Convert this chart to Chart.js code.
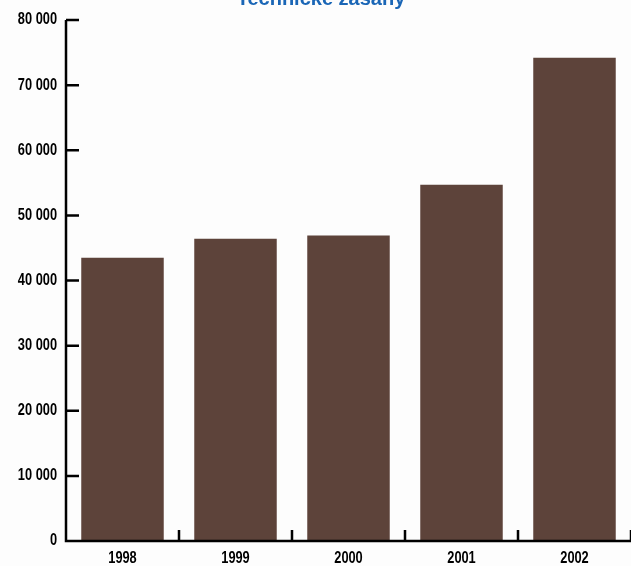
<!DOCTYPE html>
<html lang="cs">
<head>
    <meta charset="UTF-8" />
    <title>Technické zásahy</title>
    <script src="https://cdn.jsdelivr.net/npm/chart.js"></script>
    <style>
        html, body { margin: 0; padding: 0; background: #fdfdfd; }
        #wrap { width: 631px; height: 566px; position: relative; }
    </style>
</head>
<body>
<div id="wrap"><canvas id="c" width="631" height="566"></canvas></div>
<script>
// data
const years = ['1998', '1999', '2000', '2001', '2002'];
const interventions = [43500, 46400, 46900, 54700, 74200];
const yTicks = [0, 10000, 20000, 30000, 40000, 50000, 60000, 70000, 80000];

const titleText = 'Technické zásahy';
const fmt = v => v === 0 ? '0' : (v / 1000) + ' 000';

// draw condensed text (the original uses a narrow bold face)
function narrowText(ctx, text, x, y, align) {
    const sx = 0.8;
    ctx.save();
    ctx.translate(x, y);
    ctx.scale(sx, 1);
    ctx.textAlign = align;
    ctx.fillText(text, 0, 0);
    ctx.restore();
}

// axes with inward ticks and labels, positioned from the chart's own scales
const axesPlugin = {
    id: 'axes',
    afterDraw(chart) {
        const ctx = chart.ctx;
        const a = chart.chartArea;
        const x = chart.scales.x, y = chart.scales.y;
        ctx.save();
        ctx.strokeStyle = '#000';
        ctx.lineWidth = 2.5;
        ctx.beginPath();
        ctx.moveTo(a.left, a.top);
        ctx.lineTo(a.left, a.bottom);
        ctx.lineTo(a.right, a.bottom);
        yTicks.forEach(v => {
            const py = y.getPixelForValue(v);
            ctx.moveTo(a.left, py);
            ctx.lineTo(a.left + 13, py);
        });
        const half = (x.getPixelForValue(1) - x.getPixelForValue(0)) / 2;
        years.forEach((_, i) => {
            const px = x.getPixelForValue(i) + half;
            ctx.moveTo(px, a.bottom);
            ctx.lineTo(px, a.bottom - 11);
        });
        ctx.stroke();

        ctx.fillStyle = '#000';
        ctx.font = 'bold 16px "Liberation Sans", Arial, sans-serif';
        ctx.textBaseline = 'middle';
        yTicks.forEach(v => {
            narrowText(ctx, fmt(v), a.left - 9, y.getPixelForValue(v), 'right');
        });
        years.forEach((lab, i) => {
            narrowText(ctx, lab, x.getPixelForValue(i), a.bottom + 18, 'center');
        });

        // title, partly cut at the top edge
        ctx.fillStyle = '#1a66b6';
        ctx.font = 'bold 20px "Liberation Sans", Arial, sans-serif';
        ctx.textAlign = 'center';
        ctx.textBaseline = 'alphabetic';
        ctx.fillText(titleText, 321, 5);
        ctx.restore();
    }
};

new Chart(document.getElementById('c'), {
    type: 'bar',
    data: {
        labels: years,
        datasets: [{
            data: interventions,
            backgroundColor: '#5d433a',
            categoryPercentage: 0.73,
            barPercentage: 1
        }]
    },
    options: {
        responsive: false,
        animation: false,
        layout: { padding: { top: 20, right: 0, left: 0, bottom: 0 } },
        plugins: { legend: { display: false }, tooltip: { enabled: false }, title: { display: false } },
        scales: {
            x: {
                grid: { display: false, drawTicks: false },
                border: { display: false },
                ticks: { display: false },
                afterFit(s) { s.height = 25; }
            },
            y: {
                min: 0,
                max: 80000,
                afterBuildTicks(s) { s.ticks = yTicks.map(v => ({ value: v })); },
                grid: { display: false, drawTicks: false },
                border: { display: false },
                ticks: { display: false },
                afterFit(s) { s.width = 66; }
            }
        }
    },
    plugins: [axesPlugin]
});
</script>
</body>
</html>
